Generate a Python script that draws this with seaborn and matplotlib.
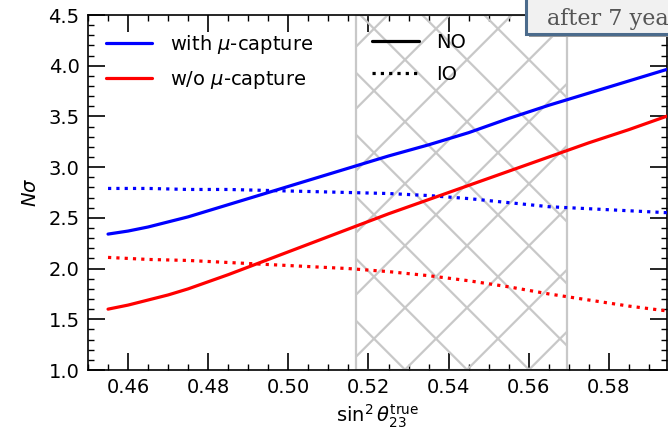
import numpy as np
import pandas as pd
import matplotlib
matplotlib.use('Agg')
import matplotlib.pyplot as plt
import seaborn as sns
from matplotlib.lines import Line2D
from matplotlib.patches import Rectangle
from matplotlib.ticker import AutoMinorLocator, MultipleLocator, FormatStrFormatter
from matplotlib.transforms import IdentityTransform

# sin^2(theta23) true values
sin2 = [0.455, 0.460, 0.465, 0.470, 0.475, 0.485, 0.495, 0.505, 0.515, 0.525,
        0.535, 0.545, 0.555, 0.565, 0.575, 0.585, 0.595, 0.600]

# N sigma, normal ordering (solid)
no_with = [2.34, 2.37, 2.41, 2.46, 2.51, 2.63, 2.75, 2.87, 2.99, 3.11,
           3.22, 3.34, 3.48, 3.61, 3.73, 3.85, 3.97, 4.03]
no_wo = [1.60, 1.64, 1.69, 1.74, 1.80, 1.94, 2.09, 2.24, 2.39, 2.54,
         2.68, 2.82, 2.96, 3.10, 3.24, 3.37, 3.51, 3.58]

# N sigma, inverted ordering (dotted)
io_with = [2.79, 2.79, 2.79, 2.785, 2.78, 2.78, 2.77, 2.76, 2.75, 2.74,
           2.72, 2.69, 2.65, 2.61, 2.59, 2.57, 2.55, 2.54]
io_wo = [2.11, 2.10, 2.09, 2.085, 2.08, 2.06, 2.04, 2.02, 2.00, 1.97,
         1.93, 1.88, 1.82, 1.75, 1.69, 1.63, 1.58, 1.55]

# hatched band (octant)
band_lo, band_hi = 0.517, 0.5695

capture_labels = ['with $\\mu$-capture', 'w/o $\\mu$-capture']
order_labels = ['NO', 'IO']
box_text = 'after 7 years'

sns.set_style('ticks')
plt.rcParams['font.family'] = ['DejaVu Sans']
plt.rcParams['mathtext.fontset'] = 'dejavusans'
plt.rcParams['text.color'] = 'black'
plt.rcParams['axes.labelcolor'] = 'black'
plt.rcParams['xtick.color'] = 'black'
plt.rcParams['ytick.color'] = 'black'

frames = []
for cap, ordr, vals in [('with', 'NO', no_with), ('w/o', 'NO', no_wo),
                        ('with', 'IO', io_with), ('w/o', 'IO', io_wo)]:
    frames.append(pd.DataFrame({'sin2': sin2, 'nsigma': vals,
                                'capture': cap, 'ordering': ordr}))
df = pd.concat(frames, ignore_index=True)

fig = plt.figure(figsize=(6.68, 4.33), dpi=100)
ax = fig.add_axes([88 / 668, 63 / 433, 579 / 668, 355 / 433])

lw = 2.3
sns.lineplot(data=df, x='sin2', y='nsigma', hue='capture', style='ordering',
             palette={'with': 'blue', 'w/o': 'red'},
             dashes={'NO': '', 'IO': (1, 1.6)},
             hue_order=['with', 'w/o'], style_order=['NO', 'IO'],
             lw=lw, errorbar=None, legend=False, ax=ax, zorder=3)

ax.set_xlim(0.45, 0.5945)
ax.set_ylim(1.0, 4.5)

# band outline + big cross hatch (lines cut to the band in pixel space)
ax.axvspan(band_lo, band_hi, facecolor='none', edgecolor='#c8c8c8',
           lw=1.6, zorder=1)
x0, y0 = ax.transData.transform((band_lo, 1.0))
x1, y1 = ax.transData.transform((band_hi, 4.5))
step = 62
px, py = 405, 433 - 121.7
for k in range(-12, 13):
    ca = px + py + k * step   # x + y = ca
    cb = px - py + k * step   # x - y = cb
    lo, hi = max(y0, ca - x1), min(y1, ca - x0)
    if hi > lo:
        ax.add_line(Line2D([ca - lo, ca - hi], [lo, hi], color='#c8c8c8', lw=1.6,
                           transform=IdentityTransform(), zorder=1))
    lo, hi = max(y0, x0 - cb), min(y1, x1 - cb)
    if hi > lo:
        ax.add_line(Line2D([cb + lo, cb + hi], [lo, hi], color='#c8c8c8', lw=1.6,
                           transform=IdentityTransform(), zorder=1))
ax.set_xlim(0.45, 0.5945)
ax.set_ylim(1.0, 4.5)

ax.xaxis.set_major_locator(MultipleLocator(0.02))
ax.xaxis.set_minor_locator(AutoMinorLocator(4))
ax.yaxis.set_major_locator(MultipleLocator(0.5))
ax.yaxis.set_minor_locator(AutoMinorLocator(5))
ax.xaxis.set_major_formatter(FormatStrFormatter('%.2f'))
ax.yaxis.set_major_formatter(FormatStrFormatter('%.1f'))
ax.tick_params(which='both', direction='in', top=True, right=True, labelsize=14,
               colors='black')
ax.tick_params(which='major', length=12.5, width=1.2, pad=6)
ax.tick_params(which='minor', length=4, width=1.0)
for s in ax.spines.values():
    s.set_linewidth(1.2)
    s.set_color('black')

ax.set_xlabel('$\\sin^2\\theta_{23}^{\\rm true}$', fontsize=14)
ax.set_ylabel('$N\\sigma$', fontsize=14, labelpad=6)

h1 = [Line2D([], [], color='blue', lw=lw), Line2D([], [], color='red', lw=lw)]
leg1 = ax.legend(h1, capture_labels, loc='upper left', frameon=False, fontsize=14,
                 handlelength=2.4, handletextpad=0.9, labelspacing=0.7)
ax.add_artist(leg1)
h2 = [Line2D([], [], color='black', lw=lw),
      Line2D([], [], color='black', lw=lw, ls=(0, (1, 1.6)))]
ax.legend(h2, order_labels, loc='upper left', bbox_to_anchor=(0.461, 1.0),
          frameon=False, fontsize=14, handlelength=2.4, handletextpad=0.9,
          labelspacing=0.7)

# annotation box, cut by the top/right edges
fig.add_artist(Rectangle(((526 + 3) / 668, (433 - 37) / 433), 200 / 668, 60 / 433,
                         transform=fig.transFigure, facecolor='#9a9a9a',
                         edgecolor='none', zorder=5))
fig.add_artist(Rectangle((526 / 668, (433 - 34) / 433), 200 / 668, 60 / 433,
                         transform=fig.transFigure, facecolor='#f1f1f1',
                         edgecolor='#4b6b8c', lw=2.2, zorder=6))
fig.text(547 / 668, (433 - 25) / 433, box_text, family='DejaVu Serif',
         fontsize=16, color='#555555', va='baseline', zorder=7)

fig.savefig('out.png', dpi=100)
